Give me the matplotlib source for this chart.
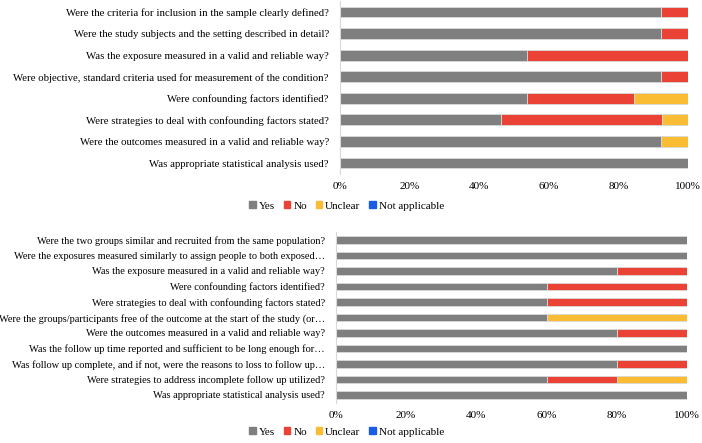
import numpy as np
import matplotlib
matplotlib.use('Agg')
import matplotlib.pyplot as plt
from matplotlib.patches import Patch

plt.rcParams['font.family'] = ['Liberation Serif', 'DejaVu Serif']

# 横截面研究（上图）数据，单位：%
top_questions = [
    'Were the criteria for inclusion in the sample clearly defined?',
    'Were the study subjects and the setting described in detail?',
    'Was the exposure measured in a valid and reliable way?',
    'Were objective, standard criteria used for measurement of the condition?',
    'Were confounding factors identified?',
    'Were strategies to deal with confounding factors stated?',
    'Were the outcomes measured in a valid and reliable way?',
    'Was appropriate statistical analysis used?',
]
top_yes = [92.3, 92.3, 53.8, 92.3, 53.8, 46.2, 92.3, 100]
top_no = [7.7, 7.7, 46.2, 7.7, 30.8, 46.2, 0, 0]
top_unclear = [0, 0, 0, 0, 15.4, 7.7, 7.7, 0]
top_na = [0, 0, 0, 0, 0, 0, 0, 0]

# 队列研究（下图）数据
bottom_questions = [
    'Were the two groups similar and recruited from the same population?',
    'Were the exposures measured similarly to assign people to both exposed\u2026',
    'Was the exposure measured in a valid and reliable way?',
    'Were confounding factors identified?',
    'Were strategies to deal with confounding factors stated?',
    'Were the groups/participants free of the outcome at the start of the study (or\u2026',
    'Were the outcomes measured in a valid and reliable way?',
    'Was the follow up time reported and sufficient to be long enough for\u2026',
    'Was follow up complete, and if not, were the reasons to loss to follow up\u2026',
    'Were strategies to address incomplete follow up utilized?',
    'Was appropriate statistical analysis used?',
]
bottom_yes = [100, 100, 80, 60, 60, 60, 80, 100, 80, 60, 100]
bottom_no = [0, 0, 20, 40, 40, 0, 20, 0, 20, 20, 0]
bottom_unclear = [0, 0, 0, 0, 0, 40, 0, 0, 0, 20, 0]
bottom_na = [0, 0, 0, 0, 0, 0, 0, 0, 0, 0, 0]

categories = ['Yes', 'No', 'Unclear', 'Not applicable']
colors = ['#7f7f7f', '#ea4335', '#f9bc33', '#1a5ce6']

fig = plt.figure(figsize=(7.02, 4.43), dpi=100)
ax_top = fig.add_axes([0.4843, 0.6077, 0.4957, 0.3896])
ax_bot = fig.add_axes([0.4786, 0.0909, 0.5, 0.3849])


def draw_panel(ax, questions, series, label_size):
    y = np.arange(len(questions))
    left = np.zeros(len(questions))
    for vals, c in zip(series, colors):
        vals = np.array(vals, dtype=float)
        ax.barh(y, vals, left=left, height=0.5, color=c,
                edgecolor='#d9d9d9', linewidth=0.6)
        left += vals
    ax.set_ylim(len(questions) - 0.5, -0.5)
    ax.set_xlim(0, 100)
    ax.set_yticks(y)
    ax.set_yticklabels(questions, fontsize=label_size)
    ax.set_xticks(np.arange(0, 101, 20))
    ax.set_xticklabels([f'{v}%' for v in range(0, 101, 20)], fontsize=8)
    ax.tick_params(axis='both', length=0)
    ax.tick_params(axis='y', pad=8)
    ax.tick_params(axis='x', pad=6)
    for s in ['top', 'right', 'bottom']:
        ax.spines[s].set_visible(False)
    ax.spines['left'].set_color('#d9d9d9')


draw_panel(ax_top, top_questions, [top_yes, top_no, top_unclear, top_na], 7.75)
draw_panel(ax_bot, bottom_questions, [bottom_yes, bottom_no, bottom_unclear, bottom_na], 7.45)

# 图例
handles = [Patch(color=c, label=l) for c, l in zip(colors, categories)]
for yy in [1 - 206 / 443, 1 - 432 / 443]:
    fig.legend(handles=handles, loc='center', bbox_to_anchor=(0.494, yy),
               ncol=4, frameon=False, fontsize=8, handlelength=0.55,
               handleheight=0.55, handletextpad=0.3, columnspacing=0.8)

fig.savefig('out.png', dpi=100)
